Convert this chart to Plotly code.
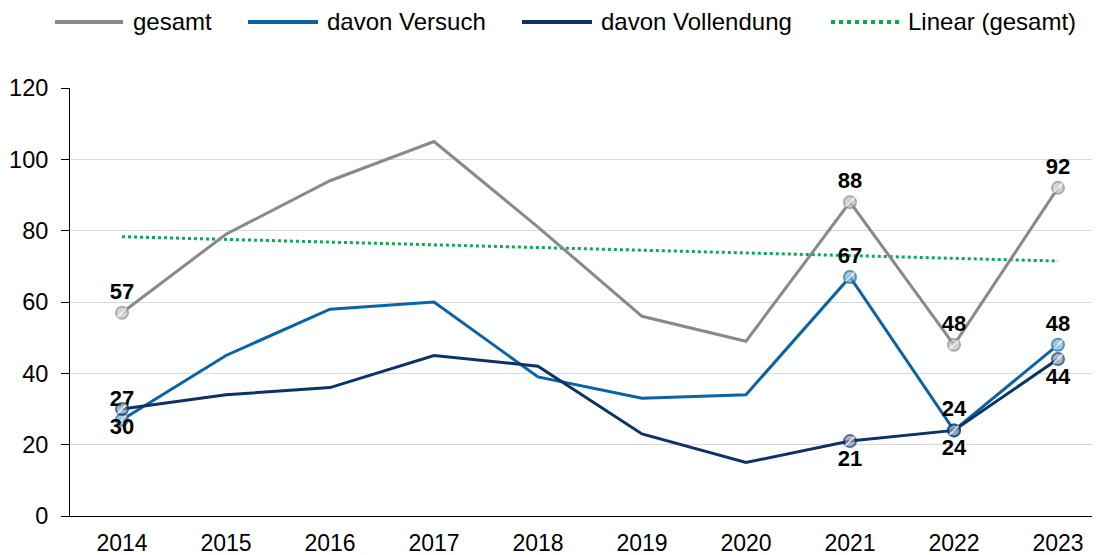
import numpy as np
import plotly.graph_objects as go

years = ["2014", "2015", "2016", "2017", "2018", "2019", "2020", "2021", "2022", "2023"]
gesamt = [57, 79, 94, 105, 81, 56, 49, 88, 48, 92]
versuch = [27, 45, 58, 60, 39, 33, 34, 67, 24, 48]
vollendung = [30, 34, 36, 45, 42, 23, 15, 21, 24, 44]

# which points carry a data label / marker
labeled = [True, False, False, False, False, False, False, True, True, True]

names = ["gesamt", "davon Versuch", "davon Vollendung", "Linear (gesamt)"]

c_gesamt = "#898989"
c_versuch = "#0A63A6"
c_vollendung = "#0C3266"
c_trend = "#00B050"

tint = {c_gesamt: "#C4C4C4", c_versuch: "#84B1D2", c_vollendung: "#8598B2"}

xi = np.arange(len(years))
slope, intercept = np.polyfit(xi, np.array(gesamt, dtype=float), 1)
trend = intercept + slope * xi

font_family = "Liberation Sans, Arial, sans-serif"
label_font = dict(family=font_family, size=22, color="black")


def series(name, vals, color, pos):
    return go.Scatter(
        x=years, y=vals, name=name,
        mode="lines+markers+text",
        line=dict(color=color, width=3),
        marker=dict(
            symbol="circle",
            size=[12 if f else 0 for f in labeled],
            color=tint[color],
            line=dict(color=color, width=2),
        ),
        text=[f"<b>{v}</b>" if f else "" for v, f in zip(vals, labeled)],
        textposition=pos,
        textfont=label_font,
        cliponaxis=False,
        showlegend=False,
    )


def hatch(vals):
    return go.Scatter(
        x=years, y=vals, mode="markers", hoverinfo="skip",
        marker=dict(symbol="line-ne", size=[9 if f else 0 for f in labeled],
                    line=dict(color="white", width=2)),
        cliponaxis=False, showlegend=False,
    )


fig = go.Figure()
fig.add_trace(go.Scatter(
    x=years, y=trend, name=names[3], mode="lines",
    line=dict(color=c_trend, width=3, dash="dot"), showlegend=False,
))
fig.add_trace(series(names[0], gesamt, c_gesamt, "top center"))
fig.add_trace(hatch(gesamt))
fig.add_trace(series(names[1], versuch, c_versuch, "top center"))
fig.add_trace(hatch(versuch))
fig.add_trace(series(names[2], vollendung, c_vollendung, "bottom center"))
fig.add_trace(hatch(vollendung))

# custom legend (line samples + labels), positioned in paper coordinates
# (page pixel positions; plot area spans x 70..1100, y 88..516 on the page)
plot_l, plot_w, plot_b, plot_h = 70, 1030, 516, 428


def px(x):
    return (x - plot_l) / plot_w


def py(y):
    return (plot_b - y) / plot_h


legend_items = [
    (names[0], c_gesamt, "solid", 55, 123, 131),
    (names[1], c_versuch, "solid", 248, 318, 325),
    (names[2], c_vollendung, "solid", 522, 592, 599),
    (names[3], c_trend, "dot", 831, 901, 906),
]
shapes = []
annotations = []
for name, col, dash, x0, x1, tx in legend_items:
    shapes.append(dict(type="line", xref="paper", yref="paper",
                       x0=px(x0), x1=px(x1), y0=py(22), y1=py(22),
                       line=dict(color=col, width=4, dash=dash)))
    annotations.append(dict(xref="paper", yref="paper", x=px(tx), y=py(22),
                            xanchor="left", yanchor="middle", showarrow=False,
                            text=name,
                            font=dict(family=font_family, size=24, color="black")))

# the page body has an 8px margin, so the figure is sized/offset to compensate
fig.update_layout(
    width=1092, height=547,
    margin=dict(l=62, r=0, t=80, b=39),
    paper_bgcolor="white", plot_bgcolor="white",
    font=dict(family=font_family, size=23, color="black"),
    showlegend=False,
    shapes=shapes,
    annotations=annotations,
    xaxis=dict(
        type="category", range=[-0.5, 9.404], automargin=False,
        showline=True, linecolor="black", linewidth=1,
        ticks="", showgrid=False, ticklabelstandoff=6,
        tickfont=dict(family=font_family, size=23, color="black"),
    ),
    yaxis=dict(
        range=[0, 120], dtick=20, automargin=False,
        showline=True, linecolor="black", linewidth=1,
        ticks="outside", ticklen=8, tickcolor="black", ticklabelstandoff=8,
        showgrid=True, gridcolor="#D9D9D9", gridwidth=1,
        zeroline=False,
        tickfont=dict(family=font_family, size=23.5, color="black"),
    ),
)

fig.write_html("out.html")
